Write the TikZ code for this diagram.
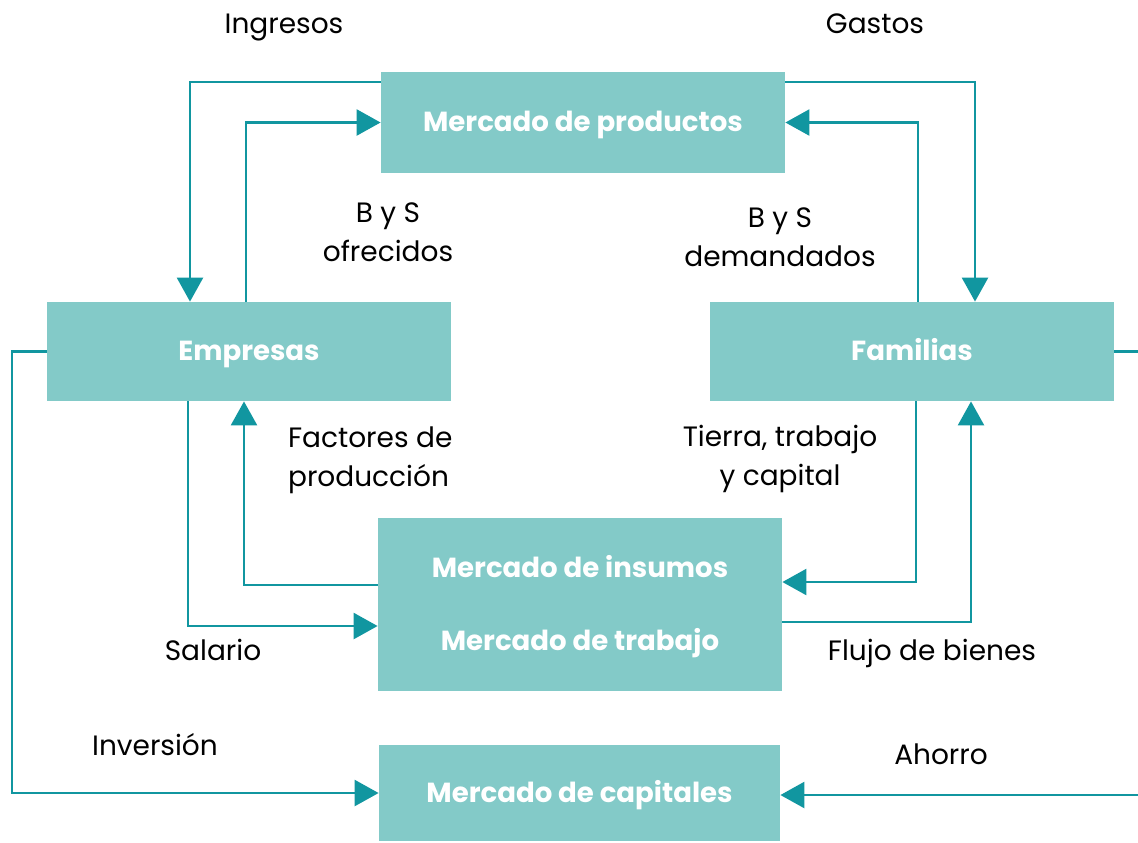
\documentclass[tikz,border=0pt]{standalone}
\usepackage{fontspec}
\setmainfont{Poppins}
\usepackage{xcolor}
\usetikzlibrary{arrows.meta,calc}

\definecolor{boxfill}{HTML}{83CAC8}
\definecolor{flowline}{HTML}{1196A0}

\begin{document}
\begin{tikzpicture}[x=0.5pt,y=-0.5pt,
    market/.style={fill=boxfill, minimum width=202pt, text=white,
      text height=0.92em, text depth=0pt,
      font=\fontsize{13.8}{18}\selectfont\bfseries},
    flow/.style={draw=flowline, line width=1.25pt,
      -{Triangle[width=13pt,length=12pt]}},
    plain/.style={draw=flowline, line width=1.25pt},
    lbl/.style={text=black, align=center, font=\fontsize{14}{19.5}\selectfont},
    oneline/.style={lbl, text height=0.92em, text depth=0pt}]
    % Canvas
    \useasboundingbox (0,0) rectangle (1138,842);

    % Draw markets and agents
    \node[market, minimum height=50.5pt] (prod) at (583,122.5) {Mercado de productos};
    \node[market, minimum height=49.5pt] (emp) at (249,351.5) {Empresas};
    \node[market, minimum height=49.5pt] (fam) at (912,351.5) {Familias};
    \node[market, minimum height=86.5pt] (ins) at (580,604.5) {};
    \node[market] (insA) at (580,568) {Mercado de insumos};
    \node[market] (insB) at (580,641) {Mercado de trabajo};
    \node[market, minimum width=200.5pt, minimum height=48pt] (cap) at (579.5,793) {Mercado de capitales};

    % Corner points
    \coordinate (ing) at (190,82);
    \coordinate (ofr) at (246,0);
    \coordinate (gas) at (975,82);
    \coordinate (dem) at (918,0);
    \coordinate (fac) at (244,585);
    \coordinate (sal) at (188,626);
    \coordinate (tie) at (916,582);
    \coordinate (flu) at (971,622);
    \coordinate (inv) at (12,0);
    \coordinate (famout) at (1138,351.5);
    \coordinate (ahoin) at (1138,795);

    % Upper loop
    \draw[flow] (ing -| prod.west) -- (ing) -- (ing |- emp.north);
    \draw[flow] (ofr |- emp.north) |- (prod.west);
    \draw[flow] (gas -| prod.east) -- (gas) -- (gas |- fam.north);
    \draw[flow] (dem |- fam.north) |- (prod.east);

    % Lower loop
    \draw[flow] (fac -| ins.west) -- (fac) -- (fac |- emp.south);
    \draw[flow] (sal |- emp.south) -- (sal) -- (sal -| ins.west);
    \draw[flow] (tie |- fam.south) -- (tie) -- (tie -| ins.east);
    \draw[flow] (flu -| ins.east) -- (flu) -- (flu |- fam.south);

    % Capital market
    \draw[flow] (emp.west) -- (emp.west -| inv) |- (cap.west);
    \draw[plain] (fam.east) -- (famout);
    \draw[flow] (ahoin) -- (ahoin -| cap.east);

    % Label flows
    \node[oneline] (tIng) at (284,24) {Ingresos};
    \node[oneline] (tGas) at (875,24) {Gastos};
    \node[lbl] (tOfr) at (388,232) {B y S\\ofrecidos};
    \node[lbl] (tDem) at (780,237) {B y S\\demandados};
    \node[lbl, align=left, anchor=west] (tFac) at (281,460) {Factores de\\producción};
    \node[lbl] (tTie) at (780,459) {Tierra, trabajo\\y capital};
    \node[oneline] (tSal) at (213,651) {Salario};
    \node[oneline] (tFlu) at (932,651) {Flujo de bienes};
    \node[oneline] (tInv) at (155,746) {Inversión};
    \node[oneline] (tAho) at (941,755) {Ahorro};

\end{tikzpicture}
\end{document}
